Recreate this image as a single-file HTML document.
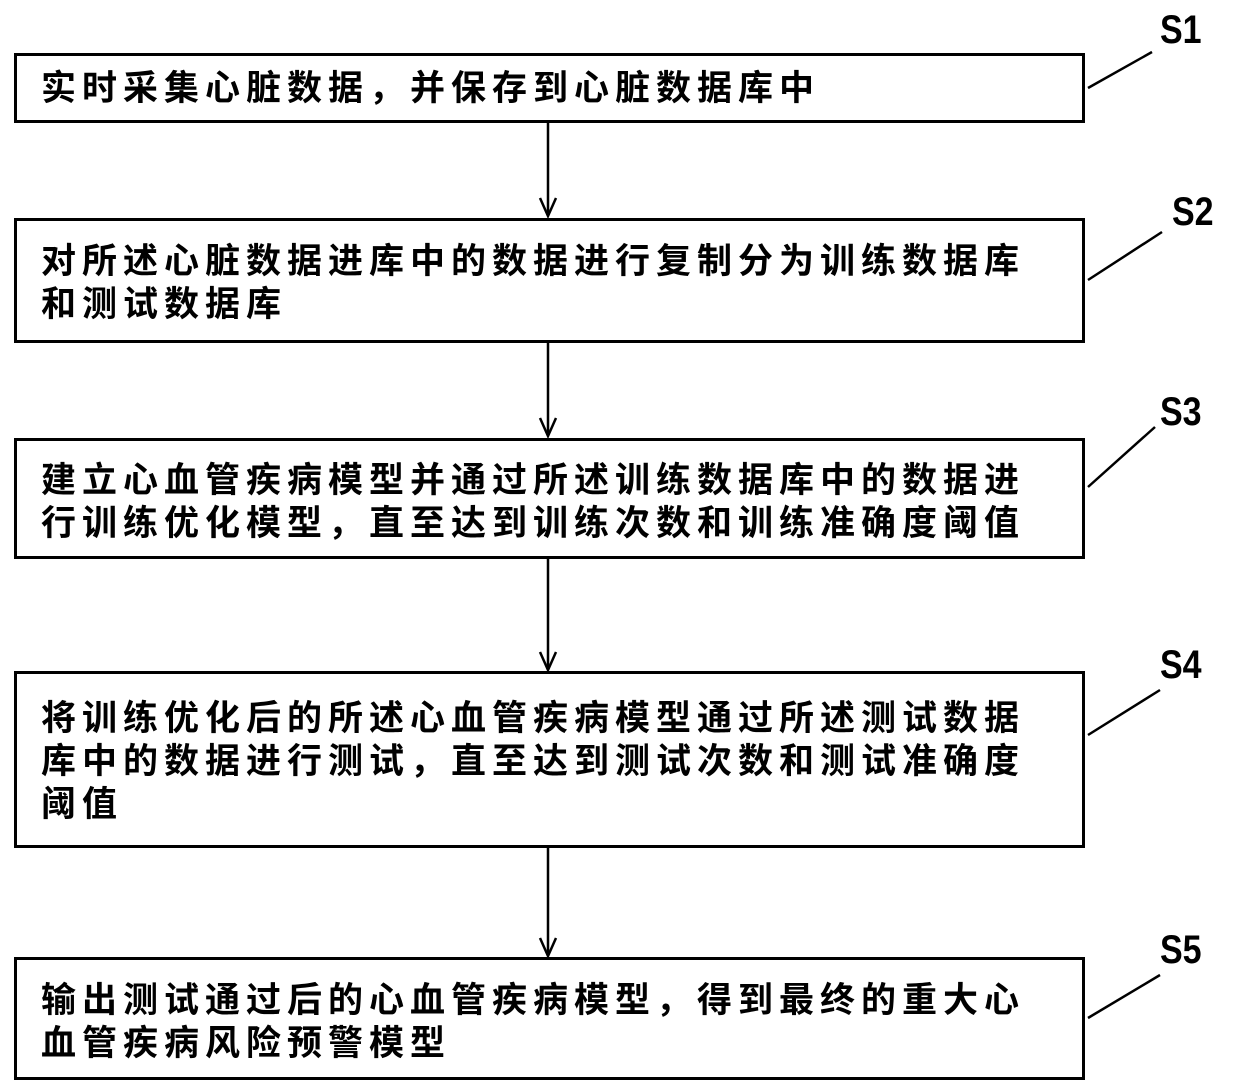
<!DOCTYPE html>
<html><head><meta charset="utf-8"><style>
html,body{margin:0;padding:0;background:#fff;width:1240px;height:1092px;overflow:hidden}
.box{position:absolute;left:14px;width:1071px;border:3px solid #000;box-sizing:border-box}
.t{position:absolute;left:24px;font-family:"Liberation Sans","Noto Sans CJK SC",sans-serif;font-weight:bold;font-size:35px;letter-spacing:6px;line-height:43px;color:#000;white-space:nowrap}
.s{position:absolute;font-family:"Liberation Sans",sans-serif;font-weight:bold;font-size:40px;color:#000;transform:scaleX(0.85);transform-origin:left}
</style></head><body>
<svg width="1240" height="1092" style="position:absolute;left:0;top:0">
<g stroke="#000" stroke-width="2.5" fill="none">
<line x1="548" y1="122" x2="548" y2="216"/><polyline points="540,198 548,216 556,198"/>
<line x1="548" y1="342" x2="548" y2="436"/><polyline points="540,418 548,436 556,418"/>
<line x1="548" y1="558" x2="548" y2="670"/><polyline points="540,652 548,670 556,652"/>
<line x1="548" y1="847" x2="548" y2="956"/><polyline points="540,938 548,956 556,938"/>
<line x1="1088" y1="88" x2="1152" y2="52"/>
<line x1="1088" y1="280" x2="1162" y2="232"/>
<line x1="1088" y1="487" x2="1155" y2="427"/>
<line x1="1088" y1="735" x2="1160" y2="690"/>
<line x1="1088" y1="1018" x2="1160" y2="975"/>
</g></svg>
<div class="box" style="top:53px;height:70px"><div class="t" style="top:11px">实时采集心脏数据，并保存到心脏数据库中</div></div>
<div class="box" style="top:218px;height:125px"><div class="t" style="top:19px">对所述心脏数据进库中的数据进行复制分为训练数据库<br>和测试数据库</div></div>
<div class="box" style="top:438px;height:121px"><div class="t" style="top:18px">建立心血管疾病模型并通过所述训练数据库中的数据进<br>行训练优化模型，直至达到训练次数和训练准确度阈值</div></div>
<div class="box" style="top:671px;height:177px"><div class="t" style="top:23px">将训练优化后的所述心血管疾病模型通过所述测试数据<br>库中的数据进行测试，直至达到测试次数和测试准确度<br>阈值</div></div>
<div class="box" style="top:957px;height:123px"><div class="t" style="top:19px">输出测试通过后的心血管疾病模型，得到最终的重大心<br>血管疾病风险预警模型</div></div>
<div class="s" style="left:1160px;top:8px">S1</div>
<div class="s" style="left:1172px;top:190px">S2</div>
<div class="s" style="left:1160px;top:390px">S3</div>
<div class="s" style="left:1160px;top:643px">S4</div>
<div class="s" style="left:1160px;top:928px">S5</div>
</body></html>
